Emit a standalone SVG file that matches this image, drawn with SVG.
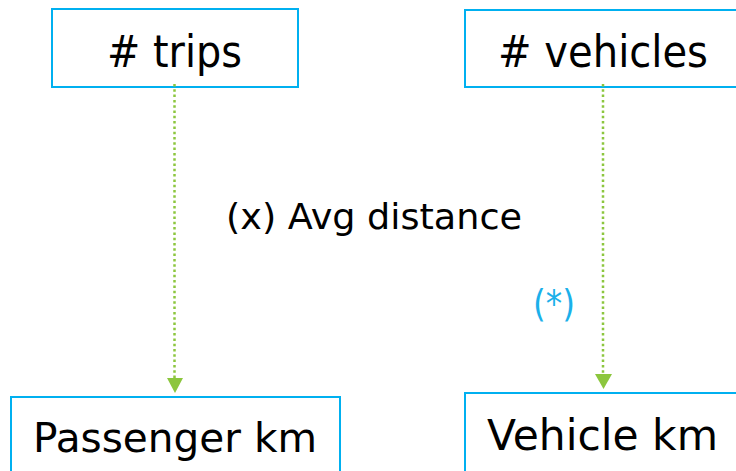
<svg xmlns="http://www.w3.org/2000/svg" width="736" height="471" viewBox="0 0 736 471">
<defs>
<style>
.box{fill:#ffffff;stroke:#00b0f0;stroke-width:2}
.lbl{font-family:"DejaVu Sans","Open Sans",sans-serif;fill:#000000;text-anchor:middle}
.con{stroke:#8cc63e;stroke-width:2.5;stroke-dasharray:2.5 2.8;fill:none}
.head{fill:#8cc63e}
</style>
</defs>
<rect width="736" height="471" fill="#ffffff"/>
<g id="trips">
<rect class="box" x="52" y="9" width="246" height="78"/>
<text class="lbl" x="174.5" y="67" font-size="45" textLength="135" lengthAdjust="spacingAndGlyphs"># trips</text>
</g>
<g id="vehicles">
<rect class="box" x="465" y="10" width="290" height="77"/>
<text class="lbl" x="603" y="67" font-size="45" textLength="210" lengthAdjust="spacingAndGlyphs"># vehicles</text>
</g>
<g id="passenger-km">
<rect class="box" x="11" y="397" width="329" height="90"/>
<text class="lbl" x="175" y="452" font-size="41" textLength="284" lengthAdjust="spacingAndGlyphs">Passenger km</text>
</g>
<g id="vehicle-km">
<rect class="box" x="465" y="393" width="290" height="90"/>
<text class="lbl" x="602.5" y="450" font-size="42" textLength="231" lengthAdjust="spacingAndGlyphs">Vehicle km</text>
</g>
<g id="connectors">
<line class="con" x1="174.5" y1="84" x2="174.5" y2="378"/>
<polygon class="head" points="167,378 183,378 175,393"/>
<line class="con" x1="603" y1="84" x2="603" y2="374"/>
<polygon class="head" points="595,374 612,374 603.5,389"/>
</g>
<text class="lbl" x="374" y="229" font-size="35" textLength="296" lengthAdjust="spacingAndGlyphs">(x) Avg distance</text>
<text class="lbl" x="554" y="317" font-size="37" textLength="42" lengthAdjust="spacingAndGlyphs" style="fill:#1bb0ea">(*)</text>
</svg>
